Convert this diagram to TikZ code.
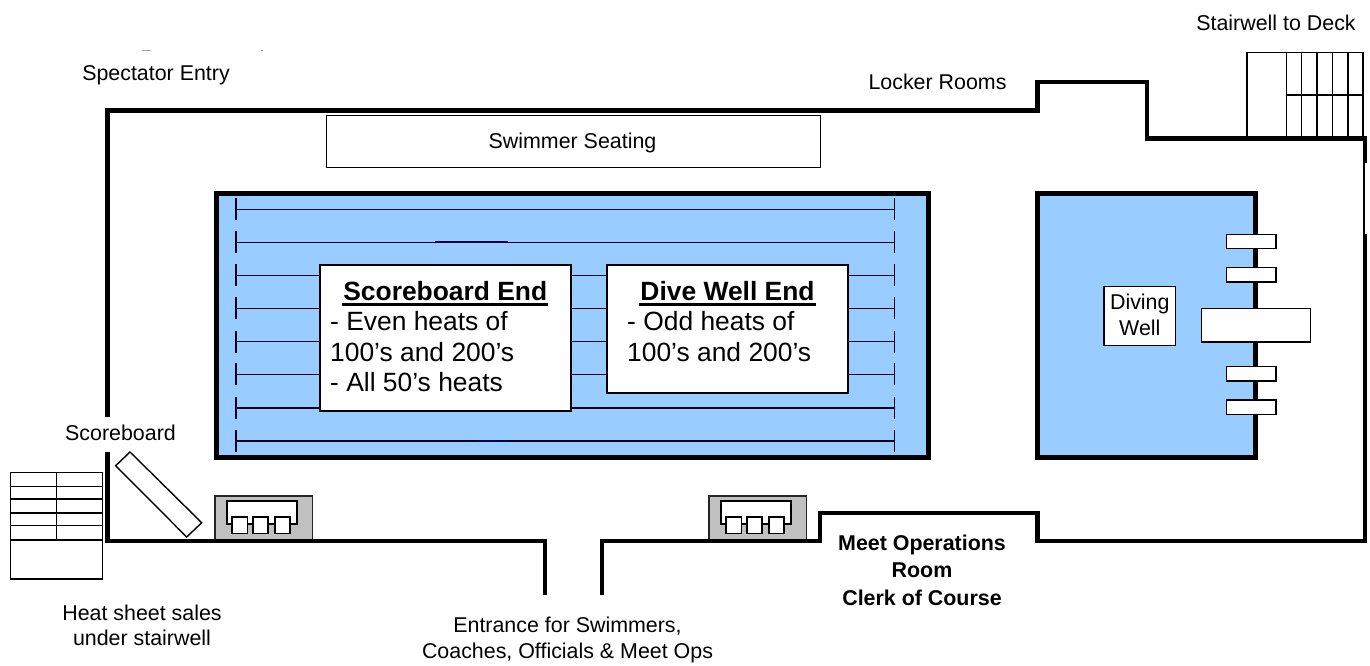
\documentclass[tikz,border=0pt]{standalone}
\usepackage{fontspec}
\setmainfont{Liberation Sans}
\definecolor{poolblue}{HTML}{99CCFF}
\definecolor{standgrey}{HTML}{C0C0C0}
\tikzset{
  wall/.style={line width=4.6pt,line join=miter,line cap=butt},
  lowwall/.style={line width=4.2pt,line join=miter,line cap=butt},
  thin line/.style={line width=1.4pt},
  medline/.style={line width=1.7pt},
  pool/.style={line width=5pt,line join=miter,fill=poolblue},
  plabel/.style={anchor=base,inner sep=0pt,font=\fontsize{21.4}{25}\selectfont},
  blabel/.style={plabel,font=\fontsize{21.4}{25}\selectfont\bfseries},
  head/.style={anchor=base,inner sep=0pt,font=\fontsize{26.4}{30}\selectfont\bfseries},
  bodytext/.style={anchor=base west,inner sep=0pt,font=\fontsize{26.4}{30}\selectfont},
  whitebox/.style={draw=black,fill=white,line width=2pt},
  board/.style={draw=black,fill=white,line width=1.5pt},
  lane/.style={line width=1.5pt,black!90!blue},
}
\begin{document}
\begin{tikzpicture}[x=1pt,y=-1pt]
\useasboundingbox (0,0) rectangle (1370,665);
% faint clipped marks
\draw[gray!70,line width=0.8pt] (142,50.5) -- (151,50.5) (261,50.5) -- (263,50.5);
% stairwell to deck
\draw[thin line] (1247,136) -- (1247,52.5) -- (1363,52.5) -- (1363,136);
\foreach \sx in {1286.3,1301.7,1317,1332.7,1348} \draw[thin line] (\sx,52.5) -- (\sx,136);
\draw[thin line] (1286.3,95) -- (1363,95);
% heat sheet stairs
\draw[thin line] (10.7,472.3) rectangle (102.3,579);
\foreach \sy in {486.3,499,513,525.7,540} \draw[thin line] (10.7,\sy) -- (102.3,\sy);
\draw[thin line] (56.7,472.3) -- (56.7,540);
% timing stands
\foreach \tx in {215,709} {
  \begin{scope}[shift={(\tx,0)}]
  \fill[standgrey,draw=black!85,line width=1.3pt] (0,541) -- (0,496) -- (97.3,496) -- (97.3,541);
  \draw[fill=white,medline] (11.8,501) rectangle (81.7,524);
  \draw[fill=white,medline] (17.3,517) rectangle (32.5,533.5);
  \draw[fill=white,medline] (37.7,517) rectangle (53,533.5);
  \draw[fill=white,medline] (59.7,517) rectangle (75,533.5);
  \end{scope}
}
% walls
\coordinate (wallA) at (107.5,417);
\coordinate (wallB) at (107.5,452);
\draw[wall] (wallA) -- (107.5,110.5) -- (1037.5,110.5) -- (1037.5,82) -- (1147,82) -- (1147,138.5) -- (1365,138.5) -- (1365,163);
\draw[line width=1.4pt] (1364,163) -- (1364,234);
\draw[lowwall] (1365,234) -- (1365,541) -- (1037.5,541) -- (1037.5,513) -- (820,513) -- (820,541) -- (602,541) -- (602,595);
\draw[lowwall] (wallB) -- (107.5,541) -- (545,541) -- (545,595);
% scoreboard
\draw[fill=white,thin line] (130,452) -- (115.7,465.7) -- (186.7,537) -- (201.7,522.7) -- cycle;
% swimmer seating
\node[draw=black,fill=white,thin line,minimum width=494pt,minimum height=51.5pt,inner sep=0pt,anchor=north west] (seating) at (326,115) {};
\node[plabel] (seatingtext) at (572.5,148.5) {Swimmer Seating};
% competition pool
\draw[pool] (216.3,193.5) rectangle (928.7,457.5);
\foreach \ly in {209.3,242.3,275.3,308.3,341.7,374.3,408,441} {
  \draw[lane] (236,\ly) -- (894.5,\ly);
  \draw[lane] (236,\ly-11) -- (236,\ly+11);
  \draw[lane] (894.5,\ly-11) -- (894.5,\ly+11);
}
\draw[line width=1.8pt,black!75!blue] (435,242.3) -- (508,242.3) (477,441) -- (508,441);
% info boxes
\draw[whitebox] (319.5,265) rectangle (571,410.7);
\draw[whitebox] (606.7,265) rectangle (848,392.7);
\node[head] (sbhead) at (445.3,300.7) {Scoreboard End};
\draw[line width=2.4pt] (342.3,304.6) -- (548.3,304.6);
\node[bodytext] (sbone) at (330,330.7) {- Even heats of};
\node[bodytext] (sbtwo) at (330,361.7) {100’s and 200’s};
\node[bodytext] (sbthree) at (330,391.3) {- All 50’s heats};
\node[head] (dwhead) at (727.5,300.7) {Dive Well End};
\draw[line width=2.4pt] (639,304.6) -- (816,304.6);
\node[bodytext] (dwone) at (627,330.7) {- Odd heats of};
\node[bodytext] (dwtwo) at (627,361.7) {100’s and 200’s};
% diving well
\draw[pool] (1037.2,193.3) rectangle (1255.5,457);
\foreach \by in {234.3,267.5,366.7,400} \draw[board] (1226.7,\by) rectangle (1276,\by+14.4);
\draw[board] (1201.3,308.7) rectangle (1310.3,342);
\draw[board] (1104,286.3) rectangle (1175.7,345.3);
\node[plabel] (dwa) at (1139.8,309.3) {Diving};
\node[plabel] (dwb) at (1139.8,335.7) {Well};
% labels
\node[plabel] (stair) at (1276,30) {Stairwell to Deck};
\node[plabel] (spect) at (156,80) {Spectator Entry};
\node[plabel] (locker) at (937.5,89) {Locker Rooms};
\node[plabel] (sb) at (120.5,440.7) {Scoreboard};
\node[plabel] (heata) at (142,620) {Heat sheet sales};
\node[plabel] (heatb) at (142,645) {under stairwell};
\node[plabel] (enta) at (567.5,632) {Entrance for Swimmers,};
\node[plabel] (entb) at (567.5,658) {Coaches, Officials \& Meet Ops};
\node[blabel] (mo) at (922,550.7) {Meet Operations};
\node[blabel] (room) at (922,577.7) {Room};
\node[blabel] (clerk) at (922,605.7) {Clerk of Course};
\end{tikzpicture}
\end{document}
